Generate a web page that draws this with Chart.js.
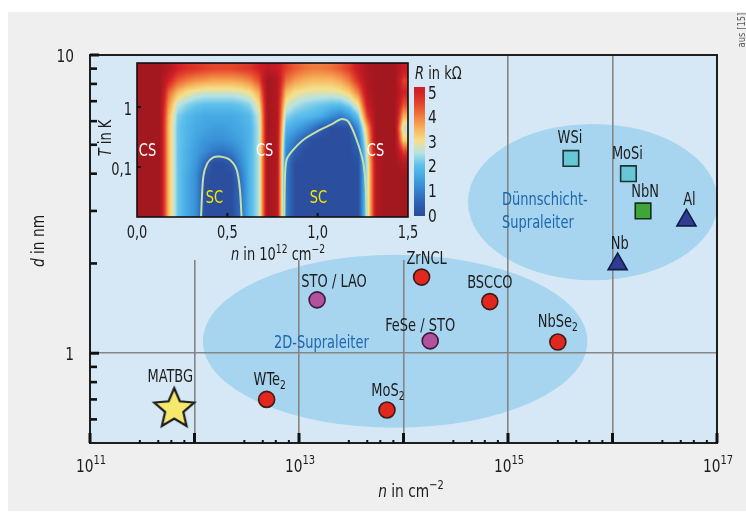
<!DOCTYPE html>
<html>
<head>
<meta charset="utf-8">
<script src="https://cdn.jsdelivr.net/npm/chart.js@4.4.1/dist/chart.umd.min.js"></script>
<style>
  html, body { margin: 0; padding: 0; background: #ffffff; }
  #wrap { position: relative; width: 746px; height: 521px; overflow: hidden; }
  #main { position: absolute; left: 0; top: 0; }
  #inset { position: absolute; left: 90px; top: 55px; }
</style>
</head>
<body>
<div id="wrap">
  <canvas id="main" width="746" height="521"></canvas>
  <canvas id="inset" width="400" height="210"></canvas>
</div>
<script>
// ---------------- main plot: superconductors, carrier density vs. thickness ----------------
const materials     = ['MATBG', 'WTe2', 'MoS2', 'STO / LAO', 'ZrNCL', 'BSCCO', 'FeSe / STO', 'NbSe2', 'WSi', 'MoSi', 'NbN', 'Al', 'Nb'];
const densityCm2    = [6.4e11, 4.9e12, 6.95e13, 1.49e13, 1.49e14, 6.7e14, 1.8e14, 3.0e15, 4.0e15, 1.42e16, 1.96e16, 5.1e16, 1.12e16];
const thicknessNm   = [0.65, 0.70, 0.645, 1.51, 1.80, 1.49, 1.10, 1.09, 4.5, 4.0, 3.0, 2.79, 1.99];
const markerGroup   = ['star', 'red', 'red', 'violet', 'red', 'red', 'violet', 'red', 'cyan', 'cyan', 'green', 'blue', 'blue'];

// axis ticks
const xGridExponents  = [11, 12, 13, 14, 15, 16, 17];
const xLabelExponents = [11, 13, 15, 17];
const xMinorFactors   = [3, 4.5, 6, 8];
const yLabelValues    = [1, 10];
const yMinorValues    = [0.6, 0.7, 0.8, 0.9, 2, 3, 4, 5, 6, 7, 8, 9];

// ---------------- inset: resistance map R(n, T) ----------------
const insetDensity = [0.025, 0.075, 0.125, 0.175, 0.225, 0.275, 0.325, 0.375, 0.425, 0.475,
                      0.525, 0.575, 0.625, 0.675, 0.725, 0.775, 0.825, 0.875, 0.925, 0.975,
                      1.025, 1.075, 1.125, 1.175, 1.225, 1.275, 1.325, 1.375, 1.425, 1.475];
const insetTempK = [4.31, 2.74, 1.74, 1.10, 0.70, 0.444, 0.282, 0.179, 0.114, 0.072, 0.046, 0.029, 0.0185];
const resistanceKOhm = [
  [6,6,6,5.6,5.0,4.8,4.7,4.6,4.5,4.5,4.5,4.6,4.7,5.0,5.4,5.2,4.6,4.3,4.1,4.0,4.0,4.1,4.3,4.6,5.2,5.8,6,6,6,5.2],
  [6,6,6,5.0,4.3,4.0,3.8,3.7,3.6,3.6,3.6,3.7,3.9,4.4,6,5.6,4.1,3.7,3.5,3.4,3.4,3.4,3.6,4.0,4.8,5.7,6,6,6,4.6],
  [6,6,6,4.2,3.4,3.0,2.8,2.7,2.7,2.7,2.7,2.8,3.0,3.6,6,5.6,3.4,3.0,2.9,2.8,2.8,2.8,2.9,3.2,4.0,5.5,6,6,6,5.0],
  [6,6,6,3.8,2.6,2.3,2.1,2.0,2.0,2.0,2.0,2.1,2.3,3.0,6,5.6,2.8,2.5,2.3,2.2,2.1,2.0,2.0,2.3,3.0,5.2,6,6,6,4.4],
  [6,6,6,3.5,2.2,1.9,1.7,1.6,1.6,1.6,1.6,1.7,1.9,2.6,6,5.6,2.3,2.0,1.9,1.8,1.6,1.2,0.9,1.3,2.1,4.6,6,6,6,3.5],
  [6,6,6,3.4,2.1,1.8,1.6,1.5,1.4,1.4,1.5,1.6,1.8,2.5,6,5.6,1.8,1.5,1.2,0.8,0.3,0.05,0.05,0.1,1.2,3.6,6,6,6,2.6],
  [6,6,6,3.4,2.1,1.8,1.5,1.3,1.2,1.2,1.3,1.5,1.8,2.5,6,5.6,1.4,0.9,0.4,0.05,0.05,0.05,0.05,0.05,0.7,3.2,6,6,6,3.2],
  [6,6,6,3.4,2.1,1.7,1.4,1.1,0.8,0.7,0.9,1.3,1.8,2.5,6,5.6,1.1,0.4,0.05,0.05,0.05,0.05,0.05,0.05,0.3,2.9,5.8,6,6,4.6],
  [6,6,6,3.4,2.1,1.7,1.3,0.6,0.05,0.05,0.3,1.1,1.8,2.5,6,5.6,1.0,0.05,0.05,0.05,0.05,0.05,0.05,0.05,0.1,2.7,5.6,6,6,5.6],
  [6,6,6,3.4,2.1,1.6,1.2,0.2,0.05,0.05,0.05,0.8,1.8,2.5,6,5.6,0.9,0.05,0.05,0.05,0.05,0.05,0.05,0.05,0.05,2.6,5.6,6,6,6],
  [6,6,6,3.4,2.1,1.6,1.2,0.1,0.05,0.05,0.05,0.7,1.8,2.5,6,5.6,0.9,0.05,0.05,0.05,0.05,0.05,0.05,0.05,0.05,2.6,5.6,6,6,6],
  [6,6,6,3.4,2.1,1.6,1.2,0.1,0.05,0.05,0.05,0.7,1.8,2.5,6,5.6,0.9,0.05,0.05,0.05,0.05,0.05,0.05,0.05,0.05,2.6,5.6,6,6,6],
  [6,6,6,3.4,2.1,1.6,1.2,0.1,0.05,0.05,0.05,0.7,1.8,2.5,6,5.6,0.9,0.05,0.05,0.05,0.05,0.05,0.05,0.05,0.05,2.6,5.6,6,6,6]
];
// boundaries of the superconducting domes (R = 0 contour)
const dome1N = [0.354, 0.367, 0.389, 0.422, 0.459, 0.515, 0.552, 0.570, 0.579];
const dome1T = [0.014, 0.069, 0.115, 0.145, 0.149, 0.131, 0.089, 0.041, 0.014];
const dome2N = [0.815, 0.819, 0.828, 0.856, 0.920, 1.013, 1.087, 1.133, 1.170, 1.216, 1.253, 1.267, 1.271];
const dome2T = [0.014, 0.069, 0.131, 0.180, 0.282, 0.414, 0.535, 0.630, 0.570, 0.282, 0.115, 0.041, 0.014];
const insetNTicks = [0, 0.5, 1, 1.5];
const insetTTicks = [0.1, 1];
const colorbarTicks = [0, 1, 2, 3, 4, 5];

// ---------------- styling ----------------
const FONT = '"Liberation Sans Narrow", "DejaVu Sans Condensed", "Arial Narrow", sans-serif';
const SX = 0.85;                 // horizontal squeeze for a condensed lettering look
const TEXT = '#1c1c1c';
const PLOT_BG = '#d6e8f6';
const REGION_FILL = '#a7d4ef';
Chart.defaults.font.family = FONT;
Chart.defaults.color = TEXT;

// shaded material classes, given in decades (log10 n, log10 d)
const regionShapes = [
  { lines: ['2D-Supraleiter'], center: [13.92, 0.040], halfAxes: [1.84, 0.29], textAt: [12.761, 0.017] },
  { lines: ['Dünnschicht-', 'Supraleiter'], center: [15.813, 0.507], halfAxes: [1.196, 0.262], textAt: [14.943, 0.497] }
];

// label placement relative to marker centre: [dx, baseline dy] in px
const labelShift = {
  'MATBG': [-4, -27], 'WTe2': [3, -14], 'MoS2': [1, -14], 'STO / LAO': [17, -13], 'ZrNCL': [5, -13],
  'BSCCO': [0, -14], 'FeSe / STO': [-10, -10], 'NbSe2': [0, -15], 'WSi': [-1, -15], 'MoSi': [-1, -15],
  'NbN': [2, -14], 'Al': [3, -15], 'Nb': [2, -15]
};

function makeStar() {
  const c = document.createElement('canvas');
  c.width = 48; c.height = 48;
  const g = c.getContext('2d');
  const R = 21, r = 9.6, cx = 24, cy = 24;
  g.beginPath();
  for (let k = 0; k < 10; k++) {
    const a = -Math.PI / 2 + k * Math.PI / 5;
    const rad = k % 2 ? r : R;
    g.lineTo(cx + rad * Math.cos(a), cy + rad * Math.sin(a));
  }
  g.closePath();
  g.fillStyle = '#f6e86c';
  g.fill();
  g.lineWidth = 2.2;
  g.strokeStyle = '#1b1b1b';
  g.stroke();
  return c;
}

const groupStyle = {
  star:   { pointStyle: makeStar(), radius: 20, bg: '#f6e86c', border: '#1b1b1b' },
  red:    { pointStyle: 'circle',   radius: 8,  bg: '#e2281e', border: '#3d1a17' },
  violet: { pointStyle: 'circle',   radius: 8,  bg: '#b2519d', border: '#3a1a33' },
  cyan:   { pointStyle: 'rect',     radius: 11, bg: '#67c7d6', border: '#1d3336' },
  green:  { pointStyle: 'rect',     radius: 11, bg: '#3ea53a', border: '#173017' },
  blue:   { pointStyle: 'triangle', radius: 11, bg: '#2e3c91', border: '#141b45' }
};

const datasets = Object.keys(groupStyle).map(key => {
  const st = groupStyle[key];
  const pts = [];
  materials.forEach((name, i) => {
    if (markerGroup[i] === key) pts.push({ x: densityCm2[i], y: thicknessNm[i], name });
  });
  return {
    label: key, data: pts, pointStyle: st.pointStyle, pointRadius: st.radius,
    backgroundColor: st.bg, borderColor: st.border, borderWidth: 1.6
  };
});

// text helper: draws a run of differently styled pieces on one line, slightly condensed
function drawRich(ctx, parts, x, y, align, baseline) {
  let total = 0;
  parts.forEach(p => { ctx.font = p.font; p.w = ctx.measureText(p.t).width * SX; total += p.w; });
  let cx = align === 'center' ? x - total / 2 : (align === 'right' ? x - total : x);
  ctx.textAlign = 'left';
  ctx.textBaseline = baseline || 'alphabetic';
  parts.forEach(p => {
    ctx.save();
    ctx.font = p.font;
    ctx.translate(cx, y + (p.dy || 0));
    ctx.scale(SX, 1);
    ctx.fillText(p.t, 0, 0);
    ctx.restore();
    cx += p.w;
  });
}
const f = (size, style) => `${style || ''} ${size}px ${FONT}`.trim();

function regionPath(ctx, xs, ys, reg) {
  const cx = xs.getPixelForValue(10 ** reg.center[0]);
  const cy = ys.getPixelForValue(10 ** reg.center[1]);
  const rx = xs.getPixelForValue(10 ** (reg.center[0] + reg.halfAxes[0])) - cx;
  const ry = cy - ys.getPixelForValue(10 ** (reg.center[1] + reg.halfAxes[1]));
  ctx.beginPath();
  ctx.ellipse(cx, cy, rx, ry, 0, 0, Math.PI * 2);
}

function drawRegions(chart) {
  const { ctx, chartArea: a, scales: { x, y } } = chart;
  ctx.save();
  ctx.beginPath();
  ctx.rect(a.left, a.top, a.right - a.left, a.bottom - a.top);
  ctx.clip();
  ctx.fillStyle = REGION_FILL;
  regionShapes.forEach(reg => { regionPath(ctx, x, y, reg); ctx.fill(); });
  ctx.restore();
}

const mainDecor = {
  id: 'mainDecor',
  beforeDraw(chart) {
    const { ctx, chartArea: a } = chart;
    ctx.save();
    ctx.fillStyle = '#ffffff';
    ctx.fillRect(0, 0, chart.width, chart.height);
    ctx.fillStyle = '#efefef';
    ctx.fillRect(8, 12, chart.width - 8, 499);
    ctx.fillStyle = PLOT_BG;
    ctx.fillRect(a.left, a.top, a.right - a.left, a.bottom - a.top);
    ctx.restore();
    drawRegions(chart);
  },
  beforeDatasetsDraw(chart) {
    // the inset sits on a plain panel that hides the grid lines behind it
    const { ctx, chartArea: a } = chart;
    const box = { l: a.left + 1, t: a.top + 1, r: 472, b: 260 };
    ctx.save();
    ctx.beginPath();
    ctx.rect(box.l, box.t, box.r - box.l, box.b - box.t);
    ctx.clip();
    ctx.fillStyle = PLOT_BG;
    ctx.fillRect(box.l, box.t, box.r - box.l, box.b - box.t);
    drawRegions(chart);
    ctx.restore();
  },
  afterDraw(chart) {
    const { ctx, chartArea: a, scales: { x, y } } = chart;
    ctx.save();

    // frame
    ctx.strokeStyle = '#1e1e1e';
    ctx.lineWidth = 2;
    ctx.strokeRect(a.left, a.top, a.right - a.left, a.bottom - a.top);

    // inward ticks, x
    ctx.fillStyle = '#111';
    xGridExponents.forEach(e => {
      const px = x.getPixelForValue(10 ** e);
      ctx.fillRect(px - 1.5, a.bottom - 10, 3, 10);
      if (e < 17) xMinorFactors.forEach(m => {
        const mx = x.getPixelForValue(m * 10 ** e);
        ctx.fillRect(mx - 1, a.bottom - 3, 2, 3);
      });
    });
    // inward ticks, y
    yLabelValues.forEach(v => {
      const py = y.getPixelForValue(v);
      ctx.fillRect(a.left, py - 1.5, 9, 3);
    });
    yMinorValues.forEach(v => {
      const py = y.getPixelForValue(v);
      ctx.fillRect(a.left, py - 1.3, 7, 2.6);
    });

    // tick labels
    ctx.fillStyle = TEXT;
    xLabelExponents.forEach(e => {
      const px = x.getPixelForValue(10 ** e);
      drawRich(ctx, [{ t: '10', font: f(18) }, { t: String(e), font: f(13), dy: -8 }], px + 1, 472, 'center');
    });
    yLabelValues.forEach(v => drawRich(ctx, [{ t: String(v), font: f(18) }], 74, y.getPixelForValue(v) + 7, 'right'));

    // axis titles
    drawRich(ctx, [{ t: 'n', font: f(18, 'italic') }, { t: ' in cm', font: f(18) }, { t: '−2', font: f(13), dy: -8 }], 411, 497, 'center');
    ctx.save();
    ctx.translate(44, 241);
    ctx.rotate(-Math.PI / 2);
    drawRich(ctx, [{ t: 'd', font: f(18, 'italic') }, { t: ' in nm', font: f(18) }], 0, 0, 'center');
    ctx.restore();

    // region captions
    ctx.fillStyle = '#1d67b0';
    regionShapes.forEach(reg => {
      const tx = x.getPixelForValue(10 ** reg.textAt[0]);
      const ty = y.getPixelForValue(10 ** reg.textAt[1]);
      reg.lines.forEach((ln, k) => drawRich(ctx, [{ t: ln, font: f(17) }], tx, ty + k * 23, 'left'));
    });

    // material labels
    ctx.fillStyle = TEXT;
    chart.data.datasets.forEach((ds, di) => {
      const meta = chart.getDatasetMeta(di);
      ds.data.forEach((pt, i) => {
        const el = meta.data[i];
        const sh = labelShift[pt.name] || [0, -14];
        const m = pt.name.match(/^(.*[A-Za-z])(\d)$/);
        const parts = m
          ? [{ t: m[1], font: f(17) }, { t: m[2], font: f(12), dy: 4 }]
          : [{ t: pt.name, font: f(17) }];
        drawRich(ctx, parts, el.x + sh[0], el.y + sh[1], 'center');
      });
    });

    // source note
    ctx.save();
    ctx.translate(745, 30);
    ctx.rotate(-Math.PI / 2);
    ctx.fillStyle = '#5a5a5a';
    drawRich(ctx, [{ t: 'aus [15]', font: f(11) }], 0, 0, 'center');
    ctx.restore();

    ctx.restore();
  }
};

new Chart(document.getElementById('main'), {
  type: 'scatter',
  data: { datasets },
  options: {
    responsive: false, animation: false, devicePixelRatio: 1, events: [],
    layout: { padding: { left: 0, right: 29, top: 55, bottom: 0 } },
    plugins: { legend: { display: false }, tooltip: { enabled: false } },
    scales: {
      x: {
        type: 'logarithmic', min: 1e11, max: 1e17,
        afterBuildTicks: s => { s.ticks = xGridExponents.map(e => ({ value: 10 ** e })); },
        ticks: { display: false },
        border: { display: false },
        grid: { color: '#858585', lineWidth: 1.6, drawTicks: false },
        afterFit: s => { s.height = 78; }
      },
      y: {
        type: 'logarithmic', min: 0.5, max: 10,
        afterBuildTicks: s => { s.ticks = yLabelValues.map(v => ({ value: v })); },
        ticks: { display: false },
        border: { display: false },
        grid: { color: '#858585', lineWidth: 1.6, drawTicks: false },
        afterFit: s => { s.width = 90; }
      }
    }
  },
  plugins: [mainDecor]
});

// ---------------- inset chart ----------------
const cmapStops = [
  [0, '#2b4c9c'], [0.5, '#2e63b4'], [1, '#3484cf'], [1.5, '#42a4e1'], [2, '#5dc0ec'],
  [2.5, '#b6e2e2'], [3, '#f6e08a'], [3.5, '#f7b25c'], [4, '#ef7c3f'], [4.5, '#e4452b'],
  [5, '#d01f27'], [5.5, '#b61a22'], [6, '#a3171e']
].map(([v, h]) => [v, [parseInt(h.slice(1, 3), 16), parseInt(h.slice(3, 5), 16), parseInt(h.slice(5, 7), 16)]]);

function colorFor(v) {
  if (v <= cmapStops[0][0]) return cmapStops[0][1];
  for (let k = 1; k < cmapStops.length; k++) {
    if (v <= cmapStops[k][0]) {
      const [v0, c0] = cmapStops[k - 1], [v1, c1] = cmapStops[k];
      const t = (v - v0) / (v1 - v0);
      return c0.map((c, j) => Math.round(c + (c1[j] - c) * t));
    }
  }
  return cmapStops[cmapStops.length - 1][1];
}

// fractional index of a value inside a monotone list (clamped)
function fracIndex(list, v) {
  const n = list.length;
  const asc = list[n - 1] > list[0];
  if (asc ? v <= list[0] : v >= list[0]) return 0;
  if (asc ? v >= list[n - 1] : v <= list[n - 1]) return n - 1;
  for (let k = 0; k < n - 1; k++) {
    const a = list[k], b = list[k + 1];
    if ((v - a) * (v - b) <= 0) return k + (v - a) / (b - a);
  }
  return n - 1;
}

const insetTags = [
  { text: 'CS', n: 0.058, T: 0.19, color: '#ffffff' },
  { text: 'CS', n: 0.706, T: 0.19, color: '#ffffff' },
  { text: 'CS', n: 1.320, T: 0.19, color: '#ffffff' },
  { text: 'SC', n: 0.429, T: 0.032, color: '#f4e600' },
  { text: 'SC', n: 1.004, T: 0.032, color: '#f4e600' }
];

const insetDecor = {
  id: 'insetDecor',
  beforeDatasetsDraw(chart) {
    const { ctx, chartArea: a, scales: { x, y } } = chart;
    const w = Math.round(a.right - a.left), h = Math.round(a.bottom - a.top);
    const off = document.createElement('canvas');
    off.width = w; off.height = h;
    const g = off.getContext('2d');
    const img = g.createImageData(w, h);
    const logRows = insetTempK.map(t => Math.log10(t));
    const colIdx = [], rowIdx = [];
    for (let i = 0; i < w; i++) colIdx.push(fracIndex(insetDensity, x.getValueForPixel(a.left + i + 0.5)));
    for (let j = 0; j < h; j++) rowIdx.push(fracIndex(logRows, Math.log10(y.getValueForPixel(a.top + j + 0.5))));
    for (let j = 0; j < h; j++) {
      const r0 = Math.floor(rowIdx[j]), r1 = Math.min(r0 + 1, insetTempK.length - 1), tr = rowIdx[j] - r0;
      for (let i = 0; i < w; i++) {
        const c0 = Math.floor(colIdx[i]), c1 = Math.min(c0 + 1, insetDensity.length - 1), tc = colIdx[i] - c0;
        const top = resistanceKOhm[r0][c0] * (1 - tc) + resistanceKOhm[r0][c1] * tc;
        const bot = resistanceKOhm[r1][c0] * (1 - tc) + resistanceKOhm[r1][c1] * tc;
        const col = colorFor(top * (1 - tr) + bot * tr);
        const p = (j * w + i) * 4;
        img.data[p] = col[0]; img.data[p + 1] = col[1]; img.data[p + 2] = col[2]; img.data[p + 3] = 255;
      }
    }
    g.putImageData(img, 0, 0);
    ctx.drawImage(off, a.left, a.top);
  },
  afterDatasetsDraw(chart) {
    const { ctx, chartArea: a, scales: { x, y, cb } } = chart;
    ctx.save();
    // frame
    ctx.strokeStyle = '#111';
    ctx.lineWidth = 1.6;
    ctx.strokeRect(a.left, a.top, a.right - a.left, a.bottom - a.top);
    // inward ticks
    ctx.fillStyle = '#111';
    [0.5, 1.0].forEach(v => { const px = x.getPixelForValue(v); ctx.fillRect(px - 1, a.bottom - 4, 2, 4); });
    insetTTicks.forEach(v => { const py = y.getPixelForValue(v); ctx.fillRect(a.left, py - 1, 4, 2); });

    // region tags
    insetTags.forEach(tg => {
      ctx.fillStyle = tg.color;
      drawRich(ctx, [{ t: tg.text, font: f(17) }], x.getPixelForValue(tg.n), y.getPixelForValue(tg.T) + 6, 'center');
    });

    // colour bar
    const bx = a.right + 6, bw = 11;
    const yTop = Math.round(cb.getPixelForValue(5.2)), yBot = Math.round(cb.getPixelForValue(-0.05));
    for (let py = yTop; py < yBot; py++) {
      const v = Math.min(5, cb.getValueForPixel(py + 0.5));
      const c = colorFor(v);
      ctx.fillStyle = `rgb(${c[0]},${c[1]},${c[2]})`;
      ctx.fillRect(bx, py, bw, 1);
    }

    // tick labels
    ctx.fillStyle = TEXT;
    insetNTicks.forEach(v => drawRich(ctx, [{ t: v.toFixed(1).replace('.', ','), font: f(17) }], x.getPixelForValue(v), a.bottom + 21, 'center'));
    insetTTicks.forEach(v => drawRich(ctx, [{ t: String(v).replace('.', ','), font: f(17) }], a.left - 5, y.getPixelForValue(v) + 8, 'right'));
    colorbarTicks.forEach(v => drawRich(ctx, [{ t: String(v), font: f(18) }], a.right + 20, cb.getPixelForValue(v) + 7, 'left'));

    // titles
    drawRich(ctx, [{ t: 'R', font: f(17, 'italic') }, { t: ' in kΩ', font: f(17) }], a.right + 7, 24, 'left');
    drawRich(ctx, [{ t: 'n', font: f(17, 'italic') }, { t: ' in 10', font: f(17) }, { t: '12', font: f(12), dy: -7 },
                   { t: ' cm', font: f(17) }, { t: '−2', font: f(12), dy: -7 }], 188, 205, 'center');
    ctx.save();
    ctx.translate(21, 83);
    ctx.rotate(-Math.PI / 2);
    drawRich(ctx, [{ t: 'T', font: f(17, 'italic') }, { t: ' in K', font: f(17) }], 0, 0, 'center');
    ctx.restore();
    ctx.restore();
  }
};

const contourStyle = { showLine: true, pointRadius: 0, borderColor: '#c8dea6', borderWidth: 2, tension: 0.3, fill: false };
new Chart(document.getElementById('inset'), {
  type: 'scatter',
  data: {
    datasets: [
      Object.assign({ label: 'dome 1', data: dome1N.map((n, i) => ({ x: n, y: dome1T[i] })) }, contourStyle),
      Object.assign({ label: 'dome 2', data: dome2N.map((n, i) => ({ x: n, y: dome2T[i] })) }, contourStyle)
    ]
  },
  options: {
    responsive: false, animation: false, devicePixelRatio: 1, events: [],
    layout: { padding: { left: 0, right: 0, top: 8, bottom: 0 } },
    plugins: { legend: { display: false }, tooltip: { enabled: false } },
    scales: {
      x: {
        type: 'linear', min: 0, max: 1.5,
        afterBuildTicks: s => { s.ticks = insetNTicks.map(v => ({ value: v })); },
        ticks: { display: false },
        grid: { display: false, drawTicks: false },
        border: { display: false },
        afterFit: s => { s.height = 48; }
      },
      y: {
        type: 'logarithmic', min: 0.0147, max: 5.4,
        afterBuildTicks: s => { s.ticks = insetTTicks.map(v => ({ value: v })); },
        ticks: { display: false },
        grid: { display: false, drawTicks: false },
        border: { display: false },
        afterFit: s => { s.width = 47; }
      },
      cb: {
        type: 'linear', position: 'right', axis: 'y', min: -0.1, max: 6.16,
        afterBuildTicks: s => { s.ticks = colorbarTicks.map(v => ({ value: v })); },
        ticks: { display: false },
        grid: { display: false, drawTicks: false },
        border: { display: false },
        afterFit: s => { s.width = 82; }
      }
    }
  },
  plugins: [insetDecor]
});
</script>
</body>
</html>
